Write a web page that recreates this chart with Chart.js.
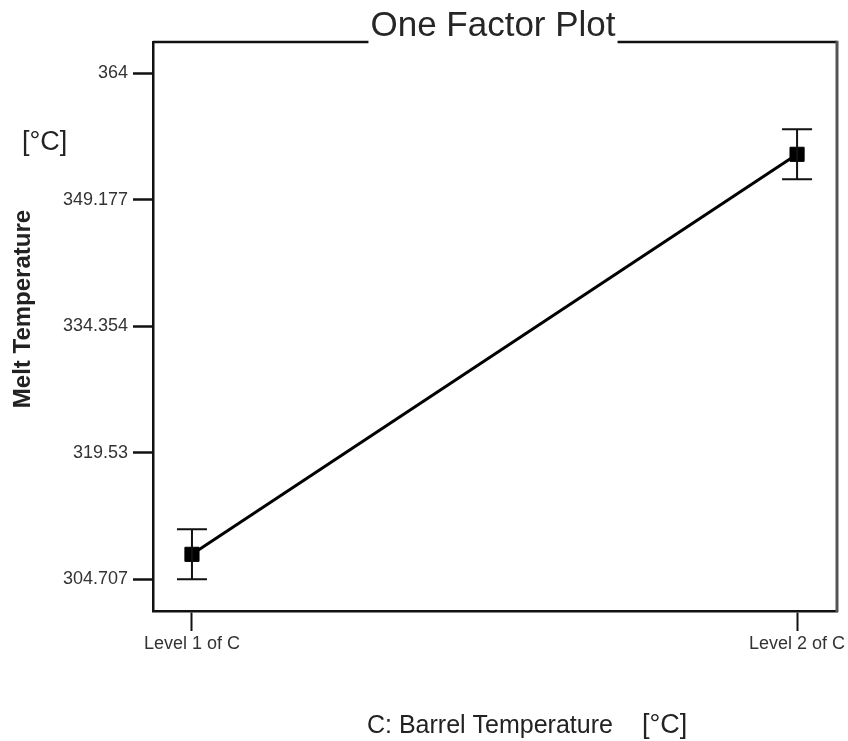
<!DOCTYPE html>
<html>
<head>
<meta charset="utf-8">
<script src="https://cdn.jsdelivr.net/npm/chart.js@4.4.0/dist/chart.umd.min.js"></script>
<style>
  html, body { margin: 0; padding: 0; background: #fff; }
  #wrap { width: 848px; height: 741px; }
</style>
</head>
<body>
<div id="wrap"><canvas id="fatorPlot" width="848" height="741"></canvas></div>
<script>
const levels = ['Level 1 of C', 'Level 2 of C'];
const levelPos = [1, 2];
const meltMean = [307.64, 354.51];
const meltLow = [304.707, 351.58];
const meltHigh = [310.57, 357.44];
const yTicks = [304.707, 319.53, 334.354, 349.177, 364];

const FONT = '"Liberation Sans", Arial, sans-serif';

// vertical error bars with caps, from the low/high arrays
const errorBars = {
  id: 'errorBars',
  afterDatasetsDraw(chart) {
    const ctx = chart.ctx, x = chart.scales.x, y = chart.scales.y;
    ctx.save();
    ctx.strokeStyle = '#111';
    ctx.lineWidth = 2;
    levelPos.forEach((p, i) => {
      const px = x.getPixelForValue(p);
      const top = y.getPixelForValue(meltHigh[i]);
      const bot = y.getPixelForValue(meltLow[i]);
      ctx.beginPath();
      ctx.moveTo(px, top); ctx.lineTo(px, bot);
      ctx.moveTo(px - 15, top); ctx.lineTo(px + 15, top);
      ctx.moveTo(px - 15, bot); ctx.lineTo(px + 15, bot);
      ctx.stroke();
    });
    ctx.restore();
  }
};

// top/right frame (top line broken by the title) and the axis titles
const frameAndTitles = {
  id: 'frameAndTitles',
  afterDraw(chart) {
    const ctx = chart.ctx, a = chart.chartArea;
    ctx.save();

    const title = 'One Factor Plot';
    ctx.font = '35px ' + FONT;
    const cx = (a.left + a.right) / 2 - 2;
    const w = ctx.measureText(title).width;
    ctx.fillStyle = '#262626';
    ctx.textAlign = 'center';
    ctx.textBaseline = 'alphabetic';
    ctx.fillText(title, cx, 36);

    ctx.strokeStyle = '#111';
    ctx.lineWidth = 2.5;
    ctx.beginPath();
    ctx.moveTo(a.left, a.top); ctx.lineTo(cx - w / 2 - 2, a.top);
    ctx.moveTo(cx + w / 2 + 2, a.top); ctx.lineTo(a.right, a.top);
    ctx.stroke();
    ctx.strokeStyle = '#555';
    ctx.lineWidth = 3;
    ctx.beginPath();
    ctx.moveTo(a.right, a.top - 1.2); ctx.lineTo(a.right, a.bottom + 1);
    ctx.stroke();

    // y axis title + unit
    ctx.fillStyle = '#222';
    ctx.save();
    ctx.translate(23, 309);
    ctx.rotate(-Math.PI / 2);
    ctx.font = 'bold 24px ' + FONT;
    ctx.textAlign = 'center';
    ctx.textBaseline = 'middle';
    ctx.fillText('Melt Temperature', 0, 0);
    ctx.restore();
    ctx.font = '27px ' + FONT;
    ctx.textAlign = 'left';
    ctx.textBaseline = 'middle';
    ctx.fillText('[°C]', 22, 143);

    // x axis title + unit
    ctx.font = '25px ' + FONT;
    ctx.textBaseline = 'alphabetic';
    ctx.fillText('C: Barrel Temperature', 367, 733);
    ctx.font = '27px ' + FONT;
    ctx.fillText('[°C]', 642, 733);
    ctx.restore();
  }
};

const ctx = document.getElementById('fatorPlot').getContext('2d');
new Chart(ctx, {
  type: 'line',
  data: {
    datasets: [{
      label: 'Melt Temperature',
      data: levelPos.map((p, i) => ({ x: p, y: meltMean[i] })),
      borderColor: '#000',
      borderWidth: 3,
      backgroundColor: '#000',
      pointStyle: 'rect',
      pointRadius: 10,
      pointBorderWidth: 1,
      pointBackgroundColor: '#000',
      pointBorderColor: '#000',
      tension: 0
    }]
  },
  options: {
    responsive: false,
    animation: false,
    layout: { padding: { top: 42, right: 10, bottom: 0, left: 0 } },
    plugins: {
      legend: { display: false },
      tooltip: { enabled: false },
      title: { display: false }
    },
    scales: {
      x: {
        type: 'linear',
        min: 0.9356,
        max: 2.066,
        afterBuildTicks: s => { s.ticks = levelPos.map(v => ({ value: v })); },
        afterFit: s => { s.height = 130; s.paddingLeft = 0; s.paddingRight = 0; },
        ticks: {
          autoSkip: false,
          maxRotation: 0,
          padding: 2,
          color: '#333',
          font: { family: FONT, size: 18 },
          callback: v => levels[levelPos.indexOf(v)] || ''
        },
        grid: { drawOnChartArea: false, drawTicks: true, tickLength: 20, tickWidth: 2, tickColor: '#111' },
        border: { display: true, color: '#111', width: 2.5 }
      },
      y: {
        min: 301.0,
        max: 367.67,
        afterBuildTicks: s => { s.ticks = yTicks.map(v => ({ value: v })); },
        afterFit: s => { s.width = 153; },
        ticks: {
          padding: 5,
          color: '#333',
          font: { family: FONT, size: 18 },
          callback: v => String(v)
        },
        grid: { drawOnChartArea: false, drawTicks: true, tickLength: 20, tickWidth: 2.5, tickColor: '#111' },
        border: { display: true, color: '#111', width: 2.5 }
      }
    }
  },
  plugins: [errorBars, frameAndTitles]
});
</script>
</body>
</html>
